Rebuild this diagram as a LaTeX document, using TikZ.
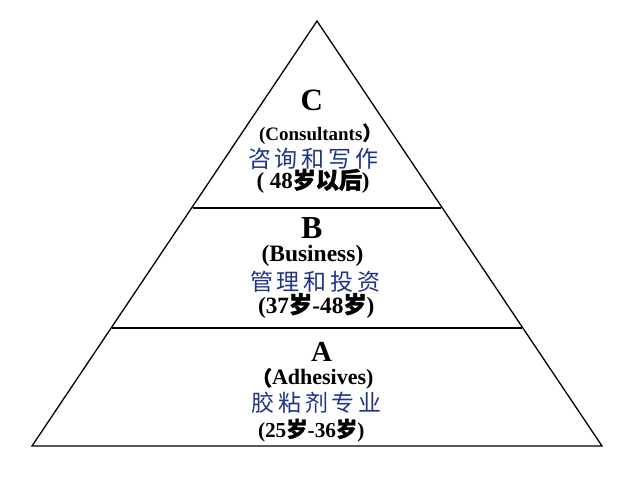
\documentclass[tikz,border=0pt]{standalone}
\usepackage{fontspec}
\setmainfont{Liberation Serif}
\newfontfamily\cjkfont{Noto Sans CJK SC}
\newfontfamily\cjkboldfont{Noto Sans CJK SC}[FakeBold=1.6]
\newcommand\cjkB[1]{{\cjkboldfont #1}}
\definecolor{zhblue}{RGB}{32,52,135}
\tikzset{
  txt/.style={inner sep=0pt, outer sep=0pt, anchor=base west},
  big/.style={inner sep=0pt, outer sep=0pt, anchor=base, text depth=0pt, font=\fontsize{#1}{#1}\selectfont\bfseries},
  sub/.style={txt, text height=0.7em, text depth=0.1em, font=\fontsize{#1}{#1}\selectfont\bfseries},
  zh/.style={txt, text=zhblue, text height=0.8em, text depth=0.08em, font=\fontsize{#1}{#1}\selectfont\cjkfont},
  edge/.style={line width=1.3pt, black, line join=miter}
}
\begin{document}
\begin{tikzpicture}[x=1pt,y=-1pt]
\useasboundingbox (0,0) rectangle (630,480);
% pyramid
\coordinate (apex) at (317,21);
\coordinate (bl) at (32,446);
\coordinate (br) at (602,446);
\coordinate (t1) at (193,208);
\coordinate (t2) at (441,208);
\coordinate (m1) at (112,328);
\coordinate (m2) at (522,328);
\draw[edge] (apex) -- (br) -- (bl) -- cycle;
\draw[edge] (t1) -- (t2);
\draw[edge] (m1) -- (m2);
% section C
\node[big=31] (c) at (311.7,110) {C};
\node[sub=19] (cen) at (259,140) {(Consultants\cjkB{）}};
\node[zh=23] (czh) at (248,167) {咨\hspace{3.8pt}询\hspace{3.8pt}和\hspace{3.8pt}写\hspace{3.8pt}作};
\node[sub=23] (cage) at (256.5,188.5) {( 48\cjkB{岁以后})};
% section B
\node[big=32] (b) at (311.7,238) {B};
\node[sub=23.5] (ben) at (261.5,261) {(Business)};
\node[zh=23] (bzh) at (250,290) {管\hspace{3.8pt}理\hspace{3.8pt}和\hspace{3.8pt}投\hspace{3.8pt}资};
\node[sub=23.3] (bage) at (258,313) {(37\cjkB{岁}-48\cjkB{岁})};
% section A
\node[big=29] (a) at (321.7,361.5) {A};
\node[sub=22] (aen) at (252,384) {\raisebox{-1.5pt}{\cjkB{\fontsize{20}{20}\selectfont （}}Adhesives)};
\node[zh=23] (azh) at (251.5,411) {胶\hspace{3.8pt}粘\hspace{3.8pt}剂\hspace{3.8pt}专\hspace{3.8pt}业};
\node[sub=21.3] (aage) at (258,437) {(25\cjkB{岁}-36\cjkB{岁})};
\end{tikzpicture}
\end{document}
